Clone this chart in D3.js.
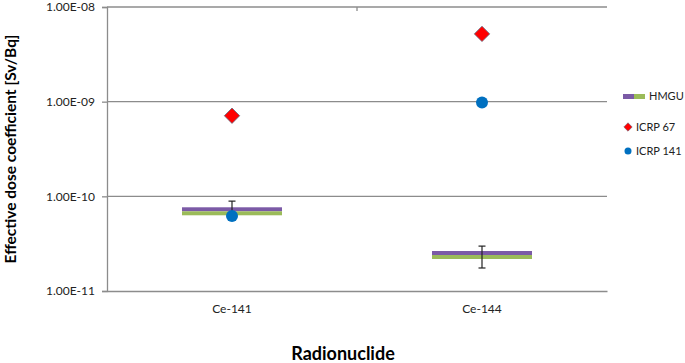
<!DOCTYPE html>
<meta charset="utf-8">
<html>
<head>
<style>
  body { margin: 0; background: #fff; font-family: Lato, "Open Sans", sans-serif; }
</style>
</head>
<body>
<div id="chart"></div>
<script src="https://d3js.org/d3.v7.min.js"></script>
<script>
// values
var nuclides = ["Ce-141", "Ce-144"]
var hmgu = [6.95e-11, 2.4e-11]
var hmguHigh = [8.9e-11, 2.98e-11]
var hmguLow = [6.3e-11, 1.75e-11]
var icrp67 = [7.1e-10, 5.2e-9]
var icrp141 = [6.2e-11, 9.8e-10]
var yTicks = [1e-11, 1e-10, 1e-9, 1e-8]
var yTickLabels = ["1.00E-11", "1.00E-10", "1.00E-09", "1.00E-08"]

var W = 685, H = 363
var margin = {top: 7, right: 78, bottom: 72, left: 107}
var width = W - margin.left - margin.right,
    height = H - margin.top - margin.bottom

var purple = "#7b5aa6", green = "#9bbb59", red = "#ff0000", blue = "#0070c0", axisCol = "#8c8c8c"

var svg = d3.select("#chart").append("svg")
    .attr("width", W).attr("height", H)
var g = svg.append("g")
    .attr("transform", "translate(" + margin.left + "," + margin.top + ")")

var x = d3.scaleBand().domain(nuclides).range([0, width])
var y = d3.scaleLog().domain([1e-11, 1e-8]).range([height, 0])

// gridlines
g.selectAll(".grid").data(yTicks.slice(1)).enter().append("line")
    .attr("x1", 0).attr("x2", width)
    .attr("y1", function(d) { return y(d) }).attr("y2", function(d) { return y(d) })
    .attr("stroke", axisCol).attr("stroke-width", 1.3)

// left axis
var yAxis = g.append("g")
    .call(d3.axisLeft(y).tickValues(yTicks).tickSize(5).tickPadding(7)
      .tickFormat(function(d, i) { return yTickLabels[i] }))
yAxis.select(".domain").attr("stroke", axisCol).attr("stroke-width", 1.3)
yAxis.selectAll(".tick line").attr("stroke", axisCol).attr("stroke-width", 1.3)
yAxis.selectAll("text").attr("font-family", "Lato, sans-serif").attr("font-size", 12).attr("fill", "#222")

// bottom axis
var xAxis = g.append("g").attr("transform", "translate(0," + height + ")")
    .call(d3.axisBottom(x).tickSize(0).tickPadding(13))
xAxis.select(".domain").attr("stroke", axisCol).attr("stroke-width", 1.3)
xAxis.selectAll("text").attr("font-family", "Lato, sans-serif").attr("font-size", 12).attr("fill", "#222")

// small category divider tick at top
g.append("line").attr("x1", width / 2).attr("x2", width / 2).attr("y1", 0).attr("y2", 4)
    .attr("stroke", axisCol).attr("stroke-width", 1.3)

// HMGU bars (purple over green)
var barW = 100
var hm = g.selectAll(".hmgu").data(nuclides).enter().append("g")
hm.append("rect")
    .attr("x", function(d) { return x(d) + x.bandwidth() / 2 - barW / 2 })
    .attr("y", function(d, i) { return y(hmgu[i]) - 4 })
    .attr("width", barW).attr("height", 4).attr("fill", purple)
hm.append("rect")
    .attr("x", function(d) { return x(d) + x.bandwidth() / 2 - barW / 2 })
    .attr("y", function(d, i) { return y(hmgu[i]) })
    .attr("width", barW).attr("height", 4).attr("fill", green)

// error bars
var err = g.selectAll(".err").data(nuclides).enter().append("g")
    .attr("stroke", "#222").attr("stroke-width", 1.2)
err.append("line")
    .attr("x1", function(d) { return x(d) + x.bandwidth() / 2 })
    .attr("x2", function(d) { return x(d) + x.bandwidth() / 2 })
    .attr("y1", function(d, i) { return y(hmguHigh[i]) })
    .attr("y2", function(d, i) { return y(hmguLow[i]) })
err.append("line")
    .attr("x1", function(d) { return x(d) + x.bandwidth() / 2 - 3.5 })
    .attr("x2", function(d) { return x(d) + x.bandwidth() / 2 + 3.5 })
    .attr("y1", function(d, i) { return y(hmguHigh[i]) })
    .attr("y2", function(d, i) { return y(hmguHigh[i]) })
err.append("line")
    .attr("x1", function(d) { return x(d) + x.bandwidth() / 2 - 3.5 })
    .attr("x2", function(d) { return x(d) + x.bandwidth() / 2 + 3.5 })
    .attr("y1", function(d, i) { return y(hmguLow[i]) })
    .attr("y2", function(d, i) { return y(hmguLow[i]) })

// ICRP 141 circles
g.selectAll(".c141").data(nuclides).enter().append("circle")
    .attr("cx", function(d) { return x(d) + x.bandwidth() / 2 })
    .attr("cy", function(d, i) { return y(icrp141[i]) })
    .attr("r", 6).attr("fill", blue)

// ICRP 67 diamonds
var diamond = d3.symbol().type(d3.symbolDiamond2).size(150)
g.selectAll(".c67").data(nuclides).enter().append("path")
    .attr("d", diamond)
    .attr("transform", function(d, i) {
      return "translate(" + (x(d) + x.bandwidth() / 2) + "," + y(icrp67[i]) + ")" })
    .attr("fill", red).attr("stroke", "#5a6a80").attr("stroke-width", 0.8)

// axis titles
svg.append("text")
    .attr("transform", "translate(16," + (margin.top + height / 2) + ") rotate(-90)")
    .attr("text-anchor", "middle")
    .attr("font-family", "Lato, sans-serif").attr("font-weight", "bold").attr("font-size", 15.5)
    .text("Effective dose coefficient [Sv/Bq]")
svg.append("text")
    .attr("x", 343).attr("y", 360)
    .attr("text-anchor", "middle")
    .attr("font-family", "Lato, sans-serif").attr("font-weight", "bold").attr("font-size", 18)
    .text("Radionuclide")

// legend
var lg = svg.append("g").attr("font-family", "Lato, sans-serif").attr("font-size", 11).attr("fill", "#222")
lg.append("rect").attr("x", 623).attr("y", 94).attr("width", 11).attr("height", 5).attr("fill", purple)
lg.append("rect").attr("x", 634).attr("y", 94).attr("width", 11).attr("height", 5).attr("fill", green)
lg.append("text").attr("x", 649).attr("y", 100).text("HMGU")
lg.append("path").attr("d", d3.symbol().type(d3.symbolDiamond2).size(45))
    .attr("transform", "translate(628,127)").attr("fill", red).attr("stroke", "#5a6a80").attr("stroke-width", 0.6)
lg.append("text").attr("x", 636).attr("y", 131).text("ICRP 67")
lg.append("circle").attr("cx", 628).attr("cy", 151).attr("r", 3.5).attr("fill", blue)
lg.append("text").attr("x", 636).attr("y", 155).text("ICRP 141")
</script>
</body>
</html>
